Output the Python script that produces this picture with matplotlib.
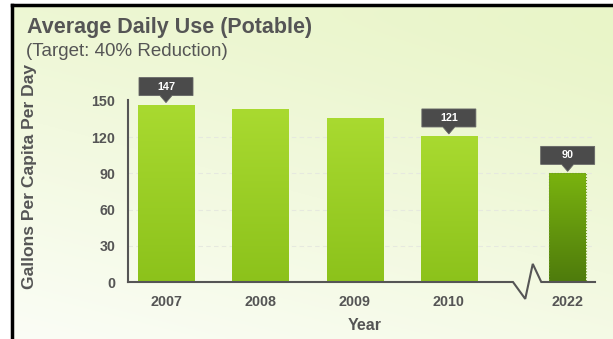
import numpy as np
import matplotlib.pyplot as plt
import matplotlib.transforms as mtransforms
from matplotlib.patches import Polygon
from matplotlib.colors import to_rgb

plt.rcParams["font.family"] = ["Liberation Sans", "DejaVu Sans"]

years = ["2007", "2008", "2009", "2010", "2022"]
gallons = [147, 143, 136, 121, 90]
labelled = [True, False, False, True, True]
y_ticks = [0, 30, 60, 90, 120, 150]

TEXT = "#555555"
W, H, DPI = 613, 339, 100


def px(x, y):
    """pixel (from top-left) -> figure fraction"""
    return x / W, 1 - y / H


def vgrad(c_top, c_bot, n=256):
    a, b = np.array(to_rgb(c_top)), np.array(to_rgb(c_bot))
    t = np.linspace(0, 1, n)[:, None]
    return (a * (1 - t) + b * t)[:, None, :]


fig = plt.figure(figsize=(W / DPI, H / DPI), dpi=DPI)
fig.patch.set_facecolor("white")

# background panel with black top/left border
bg = fig.add_axes([12 / W, 0, 1 - 12 / W, 1 - 5 / H], zorder=-2)
yy, xx = np.mgrid[0:1:200j, 0:1:300j]
green = np.array(to_rgb("#e9f5c8"))
white = np.array(to_rgb("#fbfdf6"))
t = np.clip(0.75 * yy + 0.35 * xx * (1 - yy) ** 0.3, 0, 1)[..., None]
t = np.clip(t + 0.15 * yy[..., None] * xx[..., None], 0, 1)
bg.imshow(white * (1 - t) + green * t, aspect="auto", origin="lower",
          extent=(0, 1, 0, 1))
bg.set_xlim(0, 1)
bg.set_ylim(0, 1)
bg.set_xticks([])
bg.set_yticks([])
for side in ["right", "bottom"]:
    bg.spines[side].set_visible(False)
for side in ["top", "left"]:
    bg.spines[side].set_color("black")
    bg.spines[side].set_linewidth(2.5)

# main axes
left, bottom = px(128, 282)
right, top = px(595, 88.9)
ax = fig.add_axes([left, bottom, right - left, top - bottom])
ax.patch.set_alpha(0)

gap = 0.26
positions = list(range(len(years) - 1)) + [len(years) - 1 + gap]
widths = [0.594] * (len(years) - 1) + [0.39]

bars = ax.bar(positions, gallons, width=widths, color="none",
              edgecolor="none", zorder=3)
for i, bar in enumerate(bars):
    x0, w, h = bar.get_x(), bar.get_width(), bar.get_height()
    if i == len(bars) - 1:
        grad = vgrad("#7ab30f", "#4e7b0c")
        bar.set_edgecolor("#6f9a2a")
        bar.set_linestyle(":")
        bar.set_linewidth(0.8)
    else:
        grad = vgrad("#a9da30", "#8cc21b")
    im = ax.imshow(grad, extent=(x0, x0 + w, 0, h), aspect="auto",
                   origin="upper", zorder=2)
    im.set_clip_path(bar)

ax.set_xlim(-0.403, 4.55)
ax.set_ylim(0, 160)

ax.set_yticks(y_ticks)
ax.set_xticks(positions)
ax.set_xticklabels(years)
ax.tick_params(length=0, colors=TEXT, labelsize=10.3, pad=9)
for lab in ax.get_xticklabels() + ax.get_yticklabels():
    lab.set_fontweight("bold")

for yv in y_ticks[1:-1]:
    ax.axhline(yv, color="#e6e9df", lw=0.8, ls=(0, (4, 3)), zorder=1)

for side in ["top", "right", "bottom"]:
    ax.spines[side].set_visible(False)
ax.spines["left"].set_color(TEXT)
ax.spines["left"].set_linewidth(1.5)
ax.spines["left"].set_bounds(0, 151)

# x axis line with break between 2010 and 2022
b0 = positions[-2] + 0.68
zx = [ax.get_xlim()[0], b0, b0 + 0.13, b0 + 0.21, b0 + 0.30, ax.get_xlim()[1]]
zy = [0, 0, -14, 15, 0, 0]
ax.plot(zx, zy, color=TEXT, lw=1.5, clip_on=False, zorder=4,
        solid_joinstyle="miter")

# value callouts
for bar, val, show in zip(bars, gallons, labelled):
    if not show:
        continue
    cx = bar.get_x() + bar.get_width() / 2
    tr = fig.dpi_scale_trans + mtransforms.ScaledTranslation(cx, val, ax.transData)
    s = 1 / DPI
    verts = [(-27, 9), (-6, 9), (0, 2), (6, 9), (27, 9), (27, 27), (-27, 27)]
    ax.add_patch(Polygon([(a * s, b * s) for a, b in verts], closed=True,
                         transform=tr, facecolor="#4b4b4b",
                         edgecolor="#666666", lw=0.6, clip_on=False, zorder=5))
    ax.text(0, 18 * s, str(val), transform=tr, ha="center", va="center",
            color="white", fontsize=7.8, fontweight="bold", zorder=6)

fig.text(*px(27, 28), "Average Daily Use (Potable)", fontsize=15.5,
         fontweight="bold", color=TEXT, va="center", ha="left")
fig.text(*px(26, 52), "(Target: 40% Reduction)", fontsize=13.5,
         color=TEXT, va="center", ha="left")
fig.text(*px(30, 176), "Gallons Per Capita Per Day", rotation=90,
         fontsize=12.6, fontweight="bold", color=TEXT, va="center", ha="center")
fig.text(*px(365, 326), "Year", fontsize=11.5, fontweight="bold",
         color=TEXT, va="center", ha="center")

fig.savefig("out.png", dpi=DPI)
